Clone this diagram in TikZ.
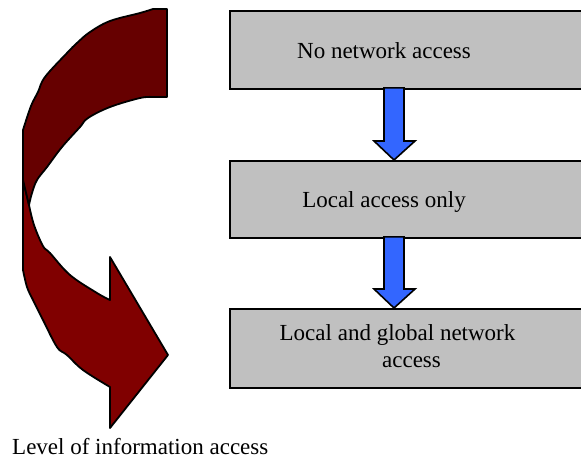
\documentclass[tikz,border=0pt]{standalone}
\usepackage{fontspec}
\setmainfont{Liberation Serif}
\usetikzlibrary{calc}
\definecolor{boxgray}{HTML}{C0C0C0}
\definecolor{arrowblue}{HTML}{3366FF}
\definecolor{darkmaroon}{HTML}{660000}
\definecolor{maroon}{HTML}{800000}
\tikzset{
  levelbox/.style={draw=black, line width=1.8pt, fill=boxgray, rectangle, inner sep=0pt, anchor=north west},
  boxtext/.style={inner sep=0pt, anchor=base, font=\fontsize{23}{27}\selectfont},
  bluearrow/.style={draw=black, line width=1.6pt, fill=arrowblue, line join=miter},
  curved/.style={draw=black, line width=1.8pt, line join=round},
}
\begin{document}
\begin{tikzpicture}[x=1pt,y=-1pt]
\useasboundingbox (0,0) rectangle (581,459);
% boxes
\node[levelbox, minimum width=370pt, minimum height=78pt] (b1) at (229,10) {};
\node[levelbox, minimum width=370pt, minimum height=77pt] (b2) at (229,160) {};
\node[levelbox, minimum width=370pt, minimum height=79pt] (b3) at (229,308) {};
% texts
\node[boxtext] (t1) at (384,58) {No network access};
\node[boxtext] (t2) at (384,207) {Local access only};
\node[boxtext] (t3a) at (397.5,340) {Local and global network};
\node[boxtext] (t3b) at (411.5,367) {access};
% blue arrows
\coordinate (a1s) at ($(b1.south west -| 394,0)+(0,-2)$);
\coordinate (a1t) at (b2.north west -| 394,0);
\coordinate (a2s) at ($(b2.south west -| 394,0)+(0,-2)$);
\coordinate (a2t) at (b3.north west -| 394,0);
\foreach \s/\t in {a1s/a1t, a2s/a2t}{
  \draw[bluearrow] ($(\s)+(-10,0)$) -- ($(\s)+(10,0)$) -- ($(\t)+(10,-19)$) -- ($(\t)+(21,-19)$)
    -- (\t) -- ($(\t)+(-20,-19)$) -- ($(\t)+(-10,-19)$) -- cycle;
}
% curved arrow: lower (front) part
\draw[curved, fill=maroon] (23,180) -- (23,270)
  -- plot[smooth, tension=0.6] coordinates {(23,270) (27,287) (33,300) (43,320) (57,347) (67,355) (83,370) (110,387)}
  -- (110,428) -- (168,355) -- (110,257) -- (110,300)
  -- plot[smooth, tension=0.6] coordinates {(110,300) (97,293) (70,275) (50,253) (43,246) (34,225) (29,205)}
  -- cycle;
% curved arrow: upper (back) part
\draw[curved, fill=darkmaroon] (167,9) -- (153,9)
  -- plot[smooth, tension=0.6] coordinates {(153,9) (140,13) (110,21) (90,32) (77,43) (67,53) (45,77) (38,92) (31,106) (23,130)}
  -- (23,180) -- (29,205)
  -- plot[smooth, tension=0.6] coordinates {(29,205) (32,193) (37,180) (47,167) (62,147) (80,127) (88,118) (110,107) (140,98) (153,97)}
  -- (167,97) -- cycle;
% caption
\node[inner sep=0pt, anchor=base west, font=\fontsize{23}{27}\selectfont] (cap) at (12,454) {Level of information access};
\end{tikzpicture}
\end{document}
